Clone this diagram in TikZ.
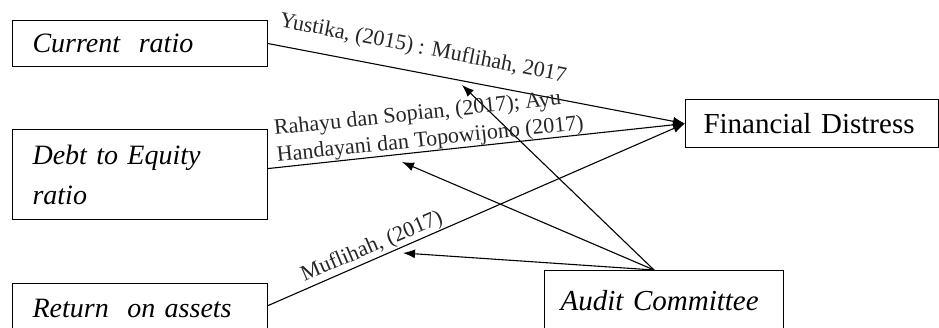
\documentclass[tikz,border=0pt]{standalone}
\usepackage{fontspec}
\setmainfont{Liberation Serif}
\usetikzlibrary{arrows.meta}
\tikzset{varbox/.style={draw, line width=1.1pt, anchor=north west, align=left, inner xsep=20pt, inner ysep=0pt, font=\itshape\fontsize{28}{40}\selectfont}}
\tikzset{reflabel/.style={inner sep=0pt, align=left, text=black!85, font=\fontsize{22}{27}\selectfont}}
\tikzset{effect/.style={line width=1.1pt, -{Latex[length=12pt, width=9pt]}}}

\begin{document}
\begin{tikzpicture}[x=1pt, y=-1pt]
            \useasboundingbox (0, 0) rectangle (939, 327);
            \clip (0, 0) rectangle (939, 327);
            \node[varbox, text width=215pt, minimum height=46pt] (cr) at (12, 20) {Current\ \ ratio};
            \node[varbox, text width=215pt, minimum height=90pt] (der) at (12, 129) {Debt\ to Equity\\ratio};
            \node[varbox, text width=215pt, minimum height=50pt] (roa) at (12, 283) {Return\ \ on assets};
            \node[varbox, text width=207pt, inner xsep=16pt, minimum height=60pt, font=\itshape\fontsize{29}{40}\selectfont] (ac) at (544, 270) {Audit Committee};
            \node[varbox, text width=217pt, inner xsep=18pt, minimum height=48pt, font=\fontsize{29}{40}\selectfont] (fd) at (685, 99) {Financial Distress};
            \draw[effect] (cr.east) -- (fd.west);
            \draw[effect] ([yshift=6pt]der.east) -- (fd.west);
            \draw[effect] ([yshift=3pt]roa.east) -- (fd.west);
            \coordinate (acs) at ([xshift=-10pt]ac.north);
            \coordinate (t1) at (462, 85);
            \coordinate (t2) at (402, 162);
            \coordinate (t3) at (403, 253);
            \foreach \target in {t1, t2, t3} {
                \draw[effect] (acs) -- (\target);
            }
            \node[reflabel, rotate=-11] (l1) at (423, 49) {Yustika, (2015) : Muflihah, 2017};
            \node[reflabel, rotate=6] (l2) at (429, 127) {Rahayu dan Sopian, (2017); Ayu\\Handayani dan Topowijono (2017)};
            \node[reflabel, rotate=23] (l3) at (372, 247) {Muflihah, (2017)};
        \end{tikzpicture}
\end{document}
